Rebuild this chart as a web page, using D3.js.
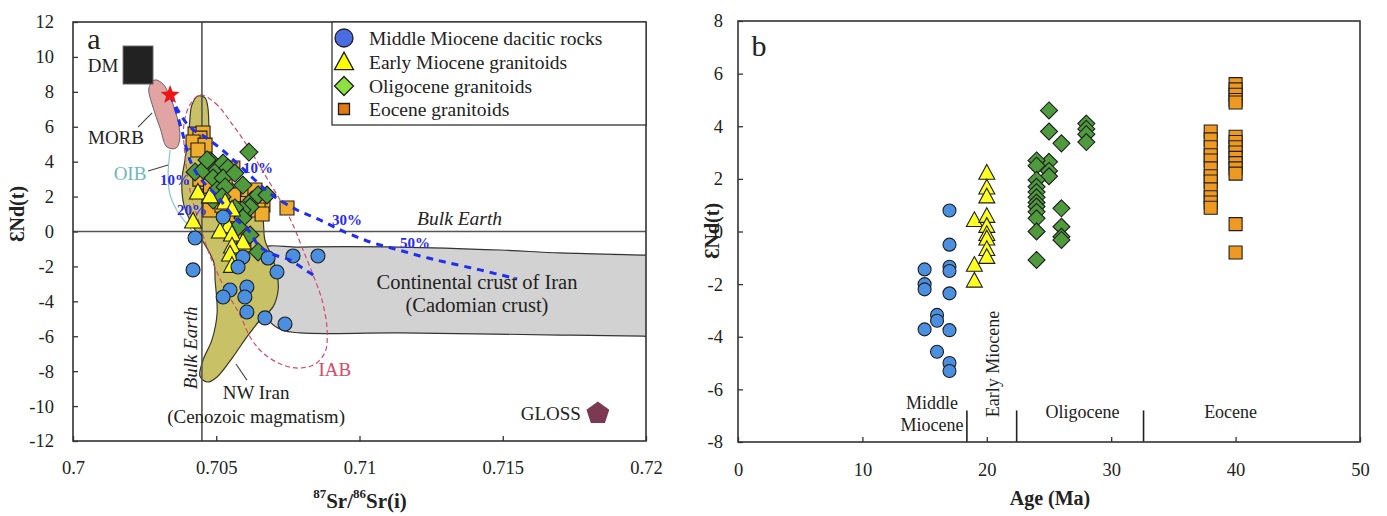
<!DOCTYPE html>
<html><head><meta charset="utf-8">
<script src="https://cdn.jsdelivr.net/npm/d3@7"></script>
<style>
body{margin:0;background:#fff;}
svg{font-family:"Liberation Serif","DejaVu Serif",serif;}
</style></head><body>
<svg id="chart" width="1387" height="516"></svg>
<script>
// ---------------- DATA ----------------
// Panel a : 87Sr/86Sr(i) vs eNd(t)
const xTicksA = [0.7, 0.705, 0.71, 0.715, 0.72];
const yTicksA = [12, 10, 8, 6, 4, 2, 0, -2, -4, -6, -8, -10, -12];
const midMioSr = [0.70524,0.70426,0.70593,0.70576,0.70681,0.70712,0.70768,0.70855,0.70419,0.70548,0.70524,0.70607,0.70600,0.70607,0.70670,0.70740];
const midMioNdA = [0.83,-0.37,-1.46,-2.03,-1.52,-2.32,-1.40,-1.40,-2.20,-3.35,-3.75,-3.18,-3.75,-4.61,-4.95,-5.30];
const earlyMioSr = [0.70436,0.70531,0.70555,0.70419,0.70541,0.70513,0.70555,0.70593,0.70555,0.70548,0.70555,0.70478];
const earlyMioNdA = [2.2,1.63,1.23,0.54,0.26,-0.03,-0.2,-0.66,-0.89,-1.35,-2.0,1.98];
const oligSr = [0.70614,0.70426,0.70454,0.70485,0.70503,0.70524,0.70541,0.70489,0.70524,0.70565,0.70593,0.70503,0.70531,0.70489,0.70520,0.70625,0.70646,0.70677,0.70618,0.70590,0.70565,0.70593,0.70576,0.70646,0.70618,0.70468];
const oligNdA = [4.55,3.41,3.52,3.98,3.52,3.92,3.64,3.06,3.06,3.35,2.66,2.38,2.55,1.80,1.98,1.80,2.09,2.09,1.40,1.23,1.35,0.77,0.26,-1.17,-0.20,4.10];
const eoceneSr = [0.70426,0.70454,0.70443,0.70419,0.70461,0.70436,0.70468,0.70496,0.70558,0.70572,0.70611,0.70663,0.70747,0.70478,0.70596,0.70583,0.70548,0.70635,0.70531,0.70513,0.70646,0.70443,0.70480,0.70600,0.70560,0.70660,0.70520];
const eoceneNdA = [5.58,5.64,5.35,5.13,4.95,4.67,2.83,2.38,3.64,1.92,2.09,1.52,1.35,1.23,-0.77,-0.10,0.95,2.38,2.83,3.20,1.23,3.0,2.6,1.6,2.1,1.0,1.5];

// reference fields (Sr, eNd)
const cadomianField = [[0.70660,-0.98],[0.70792,-0.89],[0.71141,-0.89],[0.71490,-1.06],[0.71700,-1.23],[0.71990,-1.35],[0.72040,-1.37],[0.72040,-6.0],[0.71990,-5.99],[0.71700,-5.93],[0.71141,-5.81],[0.70792,-5.81],[0.70729,-5.64],[0.70688,-5.18],[0.70660,-4.21],[0.70670,-2.20]];
const nwIranField = [[0.70436,7.76],[0.70461,7.65],[0.70471,7.07],[0.70475,5.81],[0.70482,4.55],[0.70506,3.41],[0.70565,2.66],[0.70625,1.92],[0.70660,0.95],[0.70670,-0.49],[0.70695,-1.46],[0.70712,-2.38],[0.70716,-3.35],[0.70698,-4.32],[0.70653,-5.07],[0.70607,-6.04],[0.70558,-7.19],[0.70503,-8.33],[0.70468,-8.62],[0.70443,-8.28],[0.70454,-7.36],[0.70485,-6.21],[0.70503,-4.67],[0.70496,-2.78],[0.70492,-1.80],[0.70461,-0.77],[0.70422,0.20],[0.70387,1.52],[0.70380,2.95],[0.70391,4.10],[0.70405,5.81],[0.70415,7.25]];
const morbField = [[0.70265,8.22],[0.70286,8.68],[0.70314,8.45],[0.70339,7.70],[0.70363,6.56],[0.70373,5.36],[0.70360,4.78],[0.70328,4.84],[0.70304,5.93],[0.70279,7.13]];
const dmBox = [[0.70175,8.45],[0.70279,10.62]];
const iabField = [[0.70443,7.82],[0.70496,7.36],[0.70558,6.10],[0.70618,4.67],[0.70670,3.24],[0.70723,1.80],[0.70768,0.37],[0.70803,-1.06],[0.70838,-2.49],[0.70869,-3.92],[0.70887,-5.64],[0.70880,-6.90],[0.70845,-7.59],[0.70792,-7.82],[0.70733,-7.65],[0.70663,-6.96],[0.70618,-6.04],[0.70583,-4.78],[0.70538,-3.52],[0.70499,-2.20],[0.70471,-1.06],[0.70443,0.37],[0.70408,2.38],[0.70391,4.38],[0.70387,6.10],[0.70408,7.25]];
const oibCurve = [[0.70339,4.67],[0.70332,3.24],[0.70339,2.09],[0.70366,1.12],[0.70401,0.37],[0.70426,-0.20]];
const mixCurveA = [[0.70339,7.82],[0.70370,6.84],[0.70408,5.98],[0.70461,5.41],[0.70513,4.78],[0.70572,3.92],[0.70635,2.95],[0.70695,2.09],[0.70782,1.23],[0.70862,0.66],[0.70949,-0.03],[0.71037,-0.60],[0.71124,-1.00],[0.71211,-1.40],[0.71298,-1.75],[0.71421,-2.20],[0.71550,-2.72]];
const mixCurveB = [[0.70339,7.82],[0.70359,6.96],[0.70384,5.53],[0.70408,4.10],[0.70443,3.06],[0.70489,2.26],[0.70520,1.69],[0.70565,0.77],[0.70618,-0.03],[0.70646,-0.77],[0.70695,-1.29],[0.70757,-1.63],[0.70810,-2.20],[0.70855,-2.66]];
const mixLabels = ["10%","10%","20%","30%","50%"];
const mixLabelSr = [0.70646,0.70356,0.70415,0.70956,0.71194];
const mixLabelNd = [3.64,2.95,1.23,0.66,-0.66];
const starPoint = [0.70339,7.82];
const glossPoint = [0.71832,-10.42];
const bulkEarthSr = 0.7045;
const bulkEarthNd = 0;
const morbLeader = [[0.70227,5.98],[0.70276,6.79]];
const oibLeader = [[0.70262,3.47],[0.70332,3.81]];
const nwLeader = [[0.70607,-8.51],[0.70569,-7.59]];
const annotTexts = ["DM","MORB","NW Iran","(Cenozoic magmatism)","Continental crust of Iran","(Cadomian crust)"];
const annotSr = [0.70105,0.70150,0.70639,0.70639,0.71410,0.71410];
const annotNd = [9.48,5.41,-9.25,-10.62,-2.89,-4.21];

// Panel b : Age vs eNd(t)
const xTicksB = [0, 10, 20, 30, 40, 50];
const yTicksB = [8, 6, 4, 2, 0, -2, -4, -6, -8];
const midMioAge = [15,15,15,15,16,16,16,17,17,17,17,17,17,17,17];
const midMioNdB = [-1.44,-2.0,-2.2,-3.72,-3.17,-3.39,-4.57,0.8,-0.5,-1.34,-1.5,-2.35,-3.75,-5.0,-5.3];
const earlyMioAge = [19,19,19,20,20,20,20,20,20,20,20,20];
const earlyMioNdB = [0.4,-1.3,-1.9,2.2,1.64,1.3,0.56,0.18,-0.13,-0.3,-0.7,-1.0];
const oligAge = [25,25,25,25,25,26,26,26,26,26,28,28,28,28,24,24,24,24,24,24,24,24,24,24,24,24];
const oligNdB = [4.6,3.8,2.65,2.3,2.1,3.35,0.88,0.18,-0.2,-0.32,4.1,3.9,3.7,3.4,2.7,2.5,1.96,1.7,1.5,1.3,1.1,0.95,0.75,0.5,0,-1.08];
const eoceneAge = [38,38,38,38,38,38,38,38,38,38,38,38,40,40,40,40,40,40,40,40,40,40,40,40,40,40,40];
const eoceneNdB = [3.8,3.5,3.2,2.9,2.7,2.4,2.1,1.9,1.6,1.3,1.1,0.9,5.6,5.4,5.2,5.0,4.9,3.6,3.4,3.2,3.0,2.8,2.6,2.4,2.2,0.28,-0.8];
const epochBounds = [18.4, 22.4, 32.6];
const epochLineTop = -6.8;

const legendLabels = ["Middle Miocene dacitic rocks","Early Miocene granitoids","Oligocene granitoids","Eocene granitoids"];

// ---------------- DRAWING ----------------
const svg = d3.select("#chart");
const FONT = "'Liberation Serif','DejaVu Serif',serif";

const xA = d3.scaleLinear().domain([0.7, 0.72]).range([73, 646]);
const yA = d3.scaleLinear().domain([-12, 12]).range([441, 22]);
const xB = d3.scaleLinear().domain([0, 50]).range([738, 1360]);
const yB = d3.scaleLinear().domain([-8, 8]).range([442, 21]);

function markerPath(kind, s){
  if (kind === "circ") return `M${-s},0a${s},${s} 0 1,0 ${2*s},0a${s},${s} 0 1,0 ${-2*s},0Z`;
  if (kind === "tri") { const h = s*0.92; return `M0,${-h*0.62}L${s/2},${h*0.38}L${-s/2},${h*0.38}Z`; }
  if (kind === "dia") return `M0,${-s}L${s},0L0,${s}L${-s},0Z`;
  if (kind === "sq") return `M${-s/2},${-s/2}h${s}v${s}h${-s}Z`;
}
function plotSeries(g, xs, ys, sx, sy, kind, size, fill){
  g.append("g").selectAll("path").data(xs.map((x,i)=>[x, ys[i]])).join("path")
    .attr("d", markerPath(kind, size))
    .attr("transform", d => `translate(${sx(d[0])},${sy(d[1])})`)
    .attr("fill", fill).attr("stroke", "#1e1e1e").attr("stroke-width", 1.1);
}
function drawAxes(g, sx, sy, xt, yt, xfmt, padX, padY){
  const [x0, x1] = sx.range(); const [yb, yt0] = sy.range();
  g.append("g").attr("transform", `translate(0,${yb})`)
    .call(d3.axisBottom(sx).tickValues(xt).tickSizeInner(-5).tickSizeOuter(0).tickPadding(padX).tickFormat(xfmt))
    .call(a => a.select(".domain").remove())
    .call(a => a.selectAll("line").attr("stroke", "#333").attr("stroke-width", 1.3))
    .call(a => a.selectAll("text").attr("font-size", 18.5).attr("font-family", FONT).attr("fill", "#222"));
  g.append("g").attr("transform", `translate(${x0},0)`)
    .call(d3.axisLeft(sy).tickValues(yt).tickSizeInner(-5).tickSizeOuter(0).tickPadding(padY).tickFormat(d => String(d)))
    .call(a => a.select(".domain").remove())
    .call(a => a.selectAll("line").attr("stroke", "#333").attr("stroke-width", 1.3))
    .call(a => a.selectAll("text").attr("font-size", 18.5).attr("font-family", FONT).attr("fill", "#222"));
  g.append("rect").attr("x", x0).attr("y", yt0).attr("width", x1 - x0).attr("height", yb - yt0)
    .attr("fill", "none").attr("stroke", "#333").attr("stroke-width", 1.6);
}

// ===== Panel a =====
const gA = svg.append("g").attr("font-family", FONT);
svg.append("defs").append("clipPath").attr("id", "clipA").append("rect")
  .attr("x", 73).attr("y", 22).attr("width", 573).attr("height", 419);
const fieldsA = gA.append("g").attr("clip-path", "url(#clipA)");
const lineA = d3.line().x(d => xA(d[0])).y(d => yA(d[1]));

fieldsA.append("path").datum(cadomianField)
  .attr("d", lineA.curve(d3.curveCatmullRomClosed.alpha(0.5)))
  .attr("fill", "#d2d2d2").attr("stroke", "#333").attr("stroke-width", 1.2);
fieldsA.append("path").datum(nwIranField)
  .attr("d", lineA.curve(d3.curveCatmullRomClosed.alpha(0.5)))
  .attr("fill", "#c9c166").attr("stroke", "#3a3a2a").attr("stroke-width", 1.2);
fieldsA.append("path").datum(morbField)
  .attr("d", lineA.curve(d3.curveCatmullRomClosed.alpha(0.5)))
  .attr("fill", "#e2a3a3").attr("stroke", "#666").attr("stroke-width", 1);
fieldsA.append("rect")
  .attr("x", xA(dmBox[0][0])).attr("y", yA(dmBox[1][1]))
  .attr("width", xA(dmBox[1][0]) - xA(dmBox[0][0])).attr("height", yA(dmBox[0][1]) - yA(dmBox[1][1]))
  .attr("fill", "#222").attr("stroke", "#555").attr("stroke-width", 1);
fieldsA.append("path").datum(oibCurve)
  .attr("d", lineA.curve(d3.curveCatmullRom.alpha(0.5)))
  .attr("fill", "none").attr("stroke", "#8cc6c6").attr("stroke-width", 1.2);
fieldsA.append("path").datum(iabField)
  .attr("d", lineA.curve(d3.curveCatmullRomClosed.alpha(0.5)))
  .attr("fill", "none").attr("stroke", "#d44a6a").attr("stroke-width", 1.2).attr("stroke-dasharray", "5,3");

// Bulk Earth lines
gA.append("line").attr("x1", xA(0.7)).attr("x2", xA(0.72)).attr("y1", yA(bulkEarthNd)).attr("y2", yA(bulkEarthNd))
  .attr("stroke", "#555").attr("stroke-width", 1.6);
gA.append("line").attr("x1", xA(bulkEarthSr)).attr("x2", xA(bulkEarthSr)).attr("y1", yA(12)).attr("y2", yA(-12))
  .attr("stroke", "#555").attr("stroke-width", 1.6);

// leader lines
[morbLeader, oibLeader, nwLeader].forEach(l => {
  gA.append("path").datum(l).attr("d", lineA.curve(d3.curveLinear))
    .attr("stroke", "#444").attr("stroke-width", 1.1).attr("fill", "none");
});

// points
plotSeries(gA, eoceneSr, eoceneNdA, xA, yA, "sq", 14, "#f0ac2c");
plotSeries(gA, oligSr, oligNdA, xA, yA, "dia", 9, "#4f9a3c");
plotSeries(gA, earlyMioSr, earlyMioNdA, xA, yA, "tri", 17, "#ffff22");
plotSeries(gA, midMioSr, midMioNdA, xA, yA, "circ", 7, "#4b90e0");

// mixing curves
[mixCurveA, mixCurveB].forEach(c => {
  gA.append("path").datum(c).attr("d", lineA.curve(d3.curveCatmullRom.alpha(0.5)))
    .attr("fill", "none").attr("stroke", "#1f2ef0").attr("stroke-width", 3).attr("stroke-dasharray", "7,6");
});
gA.append("g").selectAll("text").data(mixLabels).join("text")
  .attr("x", (d, i) => xA(mixLabelSr[i])).attr("y", (d, i) => yA(mixLabelNd[i]))
  .attr("text-anchor", "middle").attr("dominant-baseline", "central")
  .attr("font-size", 15).attr("font-weight", "bold").attr("fill", "#2a2af0")
  .text(d => d);

// star
function starPath(R, r){
  let p = "";
  for (let k = 0; k < 10; k++){
    const a = -Math.PI/2 + k*Math.PI/5, rr = k % 2 ? r : R;
    p += (k ? "L" : "M") + (rr*Math.cos(a)).toFixed(2) + "," + (rr*Math.sin(a)).toFixed(2);
  }
  return p + "Z";
}
gA.append("path").attr("d", starPath(10, 4.2))
  .attr("transform", `translate(${xA(starPoint[0])},${yA(starPoint[1])})`).attr("fill", "#ee1515");
// GLOSS pentagon
const pent = d3.range(5).map(k => { const a = -Math.PI/2 + k*2*Math.PI/5; return [12*Math.cos(a), 12*Math.sin(a)]; });
gA.append("path").attr("d", "M" + pent.join("L") + "Z")
  .attr("transform", `translate(${xA(glossPoint[0])},${yA(glossPoint[1])})`).attr("fill", "#7b3a52");

// annotations
gA.append("g").selectAll("text").data(annotTexts).join("text")
  .attr("x", (d, i) => xA(annotSr[i])).attr("y", (d, i) => yA(annotNd[i]))
  .attr("text-anchor", "middle").attr("dominant-baseline", "central")
  .attr("font-size", (d, i) => i >= 4 ? 20.5 : 19).attr("fill", "#222")
  .text(d => d);
gA.append("text").attr("x", xA(0.70199)).attr("y", yA(3.35)).attr("text-anchor", "middle").attr("dominant-baseline", "central")
  .attr("font-size", 19).attr("fill", "#6fb9b9").text("OIB");
gA.append("text").attr("x", xA(0.70914)).attr("y", yA(-7.93)).attr("text-anchor", "middle").attr("dominant-baseline", "central")
  .attr("font-size", 19).attr("fill", "#d44a6a").text("IAB");
gA.append("text").attr("x", xA(glossPoint[0]) - 17).attr("y", yA(glossPoint[1])).attr("text-anchor", "end").attr("dominant-baseline", "central")
  .attr("font-size", 19).attr("fill", "#222").text("GLOSS");
gA.append("text").attr("x", xA(0.71201)).attr("y", yA(0.72)).attr("dominant-baseline", "central")
  .attr("font-size", 19.5).attr("font-style", "italic").attr("fill", "#222").text("Bulk Earth");
gA.append("text").attr("transform", `translate(${xA(bulkEarthSr) - 11},${yA(-6.67)}) rotate(-90)`)
  .attr("text-anchor", "middle").attr("dominant-baseline", "central")
  .attr("font-size", 19).attr("font-style", "italic").attr("fill", "#222").text("Bulk Earth");

drawAxes(gA, xA, yA, xTicksA, yTicksA, d => String(+d.toFixed(3)), 20, 19);
gA.append("text").attr("x", 94).attr("y", 38).attr("text-anchor", "middle").attr("dominant-baseline", "central")
  .attr("font-size", 30).attr("fill", "#222").text("a");

// legend
const lg = gA.append("g");
lg.append("rect").attr("x", 332).attr("y", 22).attr("width", 314).attr("height", 103)
  .attr("fill", "#fff").attr("stroke", "#333").attr("stroke-width", 1.3);
const legKinds = [["circ", 9, "#4a6ee2"], ["tri", 19, "#ffff00"], ["dia", 9.5, "#8ee040"], ["sq", 11, "#e07a12"]];
const legY = [38, 62, 86, 109];
legendLabels.forEach((t, i) => {
  lg.append("path").attr("d", markerPath(legKinds[i][0], legKinds[i][1]))
    .attr("transform", `translate(344,${legY[i] + (i === 1 ? 1 : 0)})`)
    .attr("fill", legKinds[i][2]).attr("stroke", "#1e1e1e").attr("stroke-width", 1.3);
  lg.append("text").attr("x", 369).attr("y", legY[i]).attr("dominant-baseline", "central")
    .attr("font-size", 19.5).attr("fill", "#222").text(t);
});

// axis titles a
const xt = gA.append("text").attr("x", 360).attr("y", 501).attr("text-anchor", "middle").attr("dominant-baseline", "central")
  .attr("font-size", 21).attr("font-weight", "bold").attr("fill", "#222");
xt.append("tspan").attr("font-size", 13).attr("baseline-shift", "super").text("87");
xt.append("tspan").text("Sr/");
xt.append("tspan").attr("font-size", 13).attr("baseline-shift", "super").text("86");
xt.append("tspan").text("Sr(i)");
gA.append("text").attr("transform", "translate(17,214) rotate(-90)").attr("text-anchor", "middle").attr("dominant-baseline", "central")
  .attr("font-size", 20).attr("font-weight", "bold").attr("fill", "#222").text("ƐNd(t)");

// ===== Panel b =====
const gB = svg.append("g").attr("font-family", FONT);
gB.append("g").selectAll("line").data(epochBounds).join("line")
  .attr("x1", d => xB(d)).attr("x2", d => xB(d)).attr("y1", yB(-8)).attr("y2", yB(epochLineTop))
  .attr("stroke", "#222").attr("stroke-width", 1.6);
plotSeries(gB, eoceneAge, eoceneNdB, xB, yB, "sq", 13, "#ee9a22");
plotSeries(gB, oligAge, oligNdB, xB, yB, "dia", 8.5, "#4f9a3c");
plotSeries(gB, earlyMioAge, earlyMioNdB, xB, yB, "tri", 16, "#ffff22");
plotSeries(gB, midMioAge, midMioNdB, xB, yB, "circ", 6.5, "#4b90e0");

gB.append("text").attr("x", xB(15.6)).attr("y", yB(-6.52)).attr("text-anchor", "middle").attr("dominant-baseline", "central")
  .attr("font-size", 18).attr("fill", "#222").text("Middle");
gB.append("text").attr("x", xB(15.6)).attr("y", yB(-7.35)).attr("text-anchor", "middle").attr("dominant-baseline", "central")
  .attr("font-size", 18).attr("fill", "#222").text("Miocene");
gB.append("text").attr("transform", `translate(${xB(20.5)},${yB(-5.04)}) rotate(-90)`).attr("text-anchor", "middle").attr("dominant-baseline", "central")
  .attr("font-size", 18).attr("fill", "#222").text("Early Miocene");
gB.append("text").attr("x", xB(27.7)).attr("y", yB(-6.86)).attr("text-anchor", "middle").attr("dominant-baseline", "central")
  .attr("font-size", 18).attr("fill", "#222").text("Oligocene");
gB.append("text").attr("x", xB(39.6)).attr("y", yB(-6.86)).attr("text-anchor", "middle").attr("dominant-baseline", "central")
  .attr("font-size", 18).attr("fill", "#222").text("Eocene");

drawAxes(gB, xB, yB, xTicksB, yTicksB, d => String(d), 21, 15);
gB.append("text").attr("x", 759).attr("y", 45).attr("text-anchor", "middle").attr("dominant-baseline", "central")
  .attr("font-size", 30).attr("fill", "#222").text("b");
gB.append("text").attr("x", 1050).attr("y", 498).attr("text-anchor", "middle").attr("dominant-baseline", "central")
  .attr("font-size", 20).attr("font-weight", "bold").attr("fill", "#222").text("Age (Ma)");
gB.append("text").attr("transform", "translate(712,231) rotate(-90)").attr("text-anchor", "middle").attr("dominant-baseline", "central")
  .attr("font-size", 20).attr("font-weight", "bold").attr("fill", "#222").text("ƐNd(t)");
</script>
</body></html>
